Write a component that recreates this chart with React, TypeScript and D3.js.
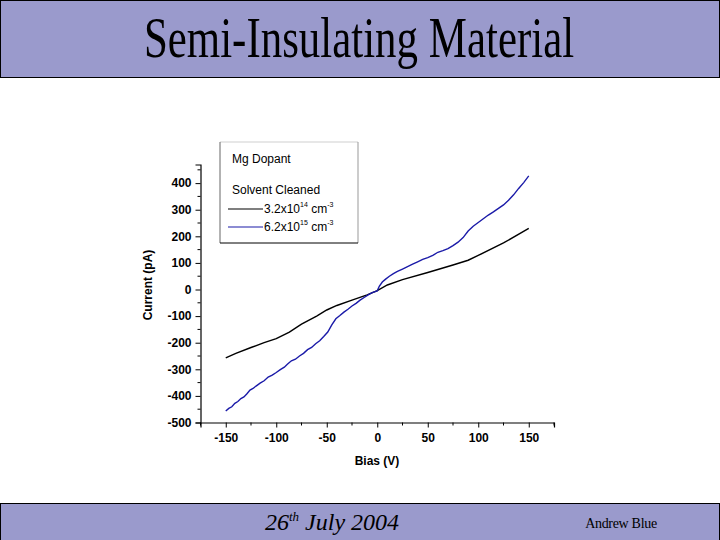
import React, { useEffect, useRef } from 'react';
import * as d3 from 'd3';

// I-V data (Bias in V, Current in pA)
const biasLow = [-150, -140, -125, -112, -100, -87, -75, -60, -50, -40, -25, -10, 0, 10, 25, 50, 75, 90, 100, 125, 150];
const currentLow = [-257, -240, -218, -200, -185, -160, -130, -100, -77, -60, -40, -20, -4, 17, 37, 64, 92, 110, 128, 175, 230];

const biasHigh = [
  -150, -147, -144, -141, -138, -135, -132, -129, -126, -123, -120, -116, -112, -108, -104, -100, -96, -92, -89,
  -85, -81, -77, -73, -69, -65, -61, -57, -53, -49, -45, -41, -37, -33, -29, -25, -21, -17, -13, -9, -5, 0,
  2, 5, 8, 12, 16, 20, 25, 30, 35, 40, 45, 50, 55, 60, 65, 70, 75, 80, 85, 90, 95, 100, 105, 110, 115, 120,
  125, 130, 135, 140, 145, 150,
];
const currentHigh = [
  -457, -447, -441, -428, -421, -410, -404, -392, -378, -372, -363, -352, -343, -329, -322, -312, -301, -292, -281,
  -268, -262, -250, -240, -226, -218, -204, -193, -177, -160, -133, -110, -98, -85, -74, -62, -52, -40, -30, -20, -12, -5,
  12, 28, 38, 50, 60, 68, 77, 86, 95, 104, 113, 120, 128, 140, 146, 154, 165, 178, 195, 220, 238, 252, 266, 280, 292, 305,
  318, 336, 356, 380, 402, 427,
];

const xTicks = [-150, -100, -50, 0, 50, 100, 150];
const yTicks = [-500, -400, -300, -200, -100, 0, 100, 200, 300, 400];

const seriesNames = ['3.2x10', '6.2x10'];
const seriesExp = ['14', '15'];
const seriesColors = ['#000000', '#1a1aa8'];

const band = '#9a9acc';
const font = 'Liberation Sans, Arial, sans-serif';
const serif = 'Liberation Serif, Times New Roman, serif';

export default function App() {
  const gRef = useRef<SVGGElement>(null);

  const x = d3.scaleLinear().domain([-175, 175]).range([200.5, 554]);
  const y = d3.scaleLinear().domain([-500, 470]).range([422.5, 164.5]);

  useEffect(() => {
    const g = d3.select(gRef.current);
    g.selectAll('*').remove();

    const xAxis = d3.axisBottom(x).tickValues(xTicks).tickSize(5).tickPadding(6).tickFormat(d => String(d));
    const yAxis = d3.axisLeft(y).tickValues(yTicks).tickSize(5).tickPadding(4).tickFormat(d => String(d));

    const xg = g.append('g').attr('transform', `translate(0,${y(-500)})`).call(xAxis);
    const yg = g.append('g').attr('transform', `translate(${x(-175)},0)`).call(yAxis);

    // minor ticks
    const xMinor = d3.range(-175, 176, 25).filter(v => !xTicks.includes(v));
    xg.selectAll('.minor').data(xMinor).join('line').attr('class', 'minor')
      .attr('x1', d => x(d)).attr('x2', d => x(d))
      .attr('y1', 0).attr('y2', 3).attr('stroke', '#000');
    const yMinor = d3.range(-450, 470, 100);
    yg.selectAll('.minor').data(yMinor).join('line').attr('class', 'minor')
      .attr('y1', d => y(d)).attr('y2', d => y(d))
      .attr('x1', 0).attr('x2', -3).attr('stroke', '#000');

    [xg, yg].forEach(a => {
      a.select('.domain').attr('stroke', '#000').attr('stroke-width', 1.2);
      a.selectAll('text').attr('font-family', font).attr('font-weight', 'bold').attr('font-size', 12).attr('fill', '#000');
    });

    const line = d3.line<[number, number]>().x(d => x(d[0])).y(d => y(d[1]));
    const series = [
      biasLow.map((b, i) => [b, currentLow[i]] as [number, number]),
      biasHigh.map((b, i) => [b, currentHigh[i]] as [number, number]),
    ];
    g.selectAll('.curve').data(series).join('path').attr('class', 'curve')
      .attr('d', d => line(d))
      .attr('fill', 'none')
      .attr('stroke', (d, i) => seriesColors[i])
      .attr('stroke-width', 1.4);
  }, []);

  return (
    <>
      <style>{`body{margin:0}`}</style>
      <svg width={720} height={540} style={{ display: 'block', background: '#fff' }}>
        <rect x={0.5} y={0.5} width={719} height={77} fill={band} stroke="#000" />
        <text transform="translate(359,57) scale(0.74,1)" textAnchor="middle" fontFamily={serif} fontSize={58} fill="#000">
          Semi-Insulating Material
        </text>

        <rect x={0.5} y={503.5} width={719} height={40} fill={band} stroke="#000" />
        <text x={332} y={530} textAnchor="middle" fontFamily={serif} fontStyle="italic" fontSize={24} fill="#000">
          26<tspan fontSize={13} dy={-9}>th</tspan><tspan dy={9}> July 2004</tspan>
        </text>
        <text x={621} y={528} textAnchor="middle" fontFamily={serif} fontSize={14} fill="#000" letterSpacing={-0.3}>
          Andrew Blue
        </text>

        {/* legend box */}
        <line x1={220} y1={142} x2={358} y2={142} stroke="#cfcfcf" />
        <line x1={358} y1={142} x2={358} y2={243} stroke="#999" />
        <line x1={220} y1={142} x2={220} y2={243} stroke="#666" />
        <line x1={220} y1={243} x2={358} y2={243} stroke="#000" />
        <text x={232} y={163} fontFamily={font} fontSize={12} fill="#000">Mg Dopant</text>
        <text x={232} y={194} fontFamily={font} fontSize={12} fill="#000">Solvent Cleaned</text>
        {seriesNames.map((n, i) => (
          <g key={n}>
            <line x1={228} x2={263} y1={209 + i * 18} y2={209 + i * 18} stroke={seriesColors[i]} strokeWidth={1.2} />
            <text x={264} y={213 + i * 18} fontFamily={font} fontSize={12} fill="#000">
              {n}<tspan fontSize={7} dy={-6}>{seriesExp[i]}</tspan><tspan dy={6}> cm</tspan><tspan fontSize={7} dy={-6}>-3</tspan>
            </text>
          </g>
        ))}

        <g ref={gRef} />

        <text transform={`translate(152,${285}) rotate(-90)`} textAnchor="middle" fontFamily={font} fontWeight="bold" fontSize={12} fill="#000">
          Current (pA)
        </text>
        <text x={377} y={465} textAnchor="middle" fontFamily={font} fontWeight="bold" fontSize={12} fill="#000">
          Bias (V)
        </text>
      </svg>
    </>
  );
}
